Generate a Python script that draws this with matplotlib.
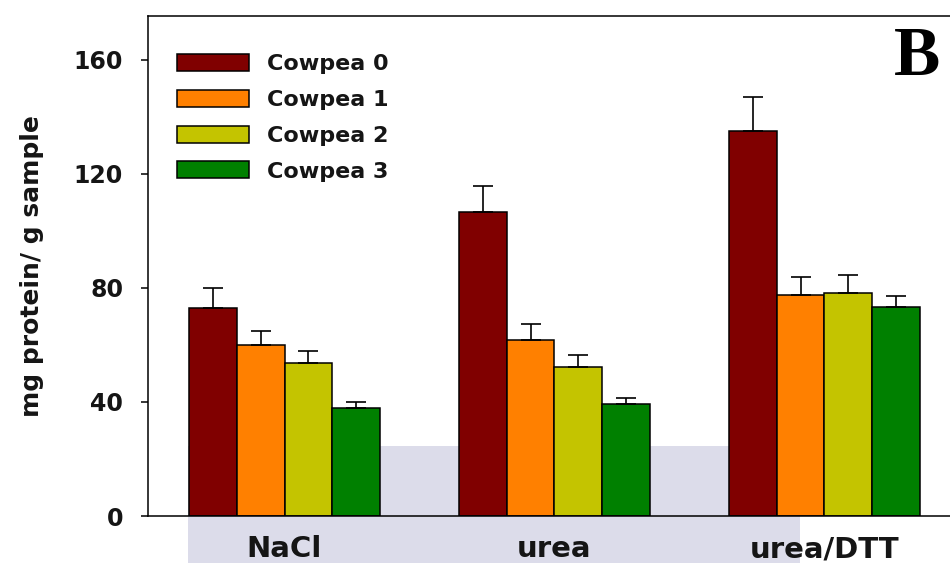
import matplotlib
matplotlib.use("Agg")
import matplotlib.pyplot as plt
from matplotlib.patches import Rectangle
import numpy as np

# ---- data ----
categories = ["NaCl", "urea", "urea/DTT"]
series_names = ["Cowpea 0", "Cowpea 1", "Cowpea 2", "Cowpea 3"]
cowpea0 = [73.0, 106.5, 135.0]
cowpea1 = [60.0, 61.8, 77.7]
cowpea2 = [53.6, 52.2, 78.4]
cowpea3 = [38.0, 39.2, 73.4]
err0 = [7.0, 9.3, 12.1]
err1 = [4.8, 5.7, 6.3]
err2 = [4.2, 4.2, 6.2]
err3 = [1.9, 2.1, 3.8]
yticks = [0, 40, 80, 120, 160]

series = [cowpea0, cowpea1, cowpea2, cowpea3]
errors = [err0, err1, err2, err3]
colors = ["#800000", "#FF8000", "#C4C400", "#008000"]

W, H = 950, 563
fig = plt.figure(figsize=(W / 100, H / 100), dpi=100)
ax = fig.add_axes([148 / W, 47 / H, (960 - 148) / W, 500 / H])

# faint watermark-like panel behind the bars and labels
ax.add_patch(Rectangle((188 / W, 0), (800 - 188) / W, (563 - 446) / H,
                       transform=fig.transFigure, facecolor="#dcdcea",
                       edgecolor="none", zorder=0.5, clip_on=False))

x = np.arange(len(categories))
bw = 0.1769
for i, (vals, errs, col, name) in enumerate(zip(series, errors, colors, series_names)):
    pos = x + (i - 1.5) * bw
    ax.bar(pos, vals, width=bw, color=col, edgecolor="black", linewidth=1.1,
           label=name, zorder=2)
    ax.errorbar(pos, vals, yerr=[np.zeros(len(vals)), errs], fmt="none",
                ecolor="black", elinewidth=1.2, capsize=7, capthick=1.2, zorder=3)

ax.set_xlim(-0.5056, 2.5019)
ax.set_ylim(0, 175.4)
ax.set_yticks(yticks)
ax.set_xticks(x)
ax.set_xticklabels(categories, fontfamily="DejaVu Sans", fontweight="bold", fontsize=21,
                   color="#151515")
ax.tick_params(axis="x", length=0, pad=14)
ax.tick_params(axis="y", direction="out", length=5, width=1.1, pad=13)
for lab in ax.get_yticklabels():
    lab.set_fontfamily("DejaVu Sans")
    lab.set_fontweight("bold")
    lab.set_fontsize(17)
    lab.set_color("#151515")
for sp in ax.spines.values():
    sp.set_linewidth(1.1)
    sp.set_zorder(3)

ax.set_ylabel("mg protein/ g sample", fontfamily="DejaVu Sans", fontweight="bold",
              fontsize=18, color="#151515")
ax.yaxis.set_label_coords(-0.128, 0.5)

leg = ax.legend(loc="upper left", bbox_to_anchor=(177 / W, 1 - 54 / H),
                bbox_transform=fig.transFigure, frameon=False,
                prop={"family": "DejaVu Sans", "weight": "bold", "size": 16},
                handlelength=3.25, handleheight=0.8, handletextpad=0.8,
                labelspacing=0.7, borderpad=0, borderaxespad=0)
for t in leg.get_texts():
    t.set_color("#151515")

fig.text(940 / W, 1 - 75 / H, "B", fontfamily="Liberation Serif", fontweight="bold",
         fontsize=50, ha="right", va="baseline")

fig.savefig("out.png", dpi=100)
